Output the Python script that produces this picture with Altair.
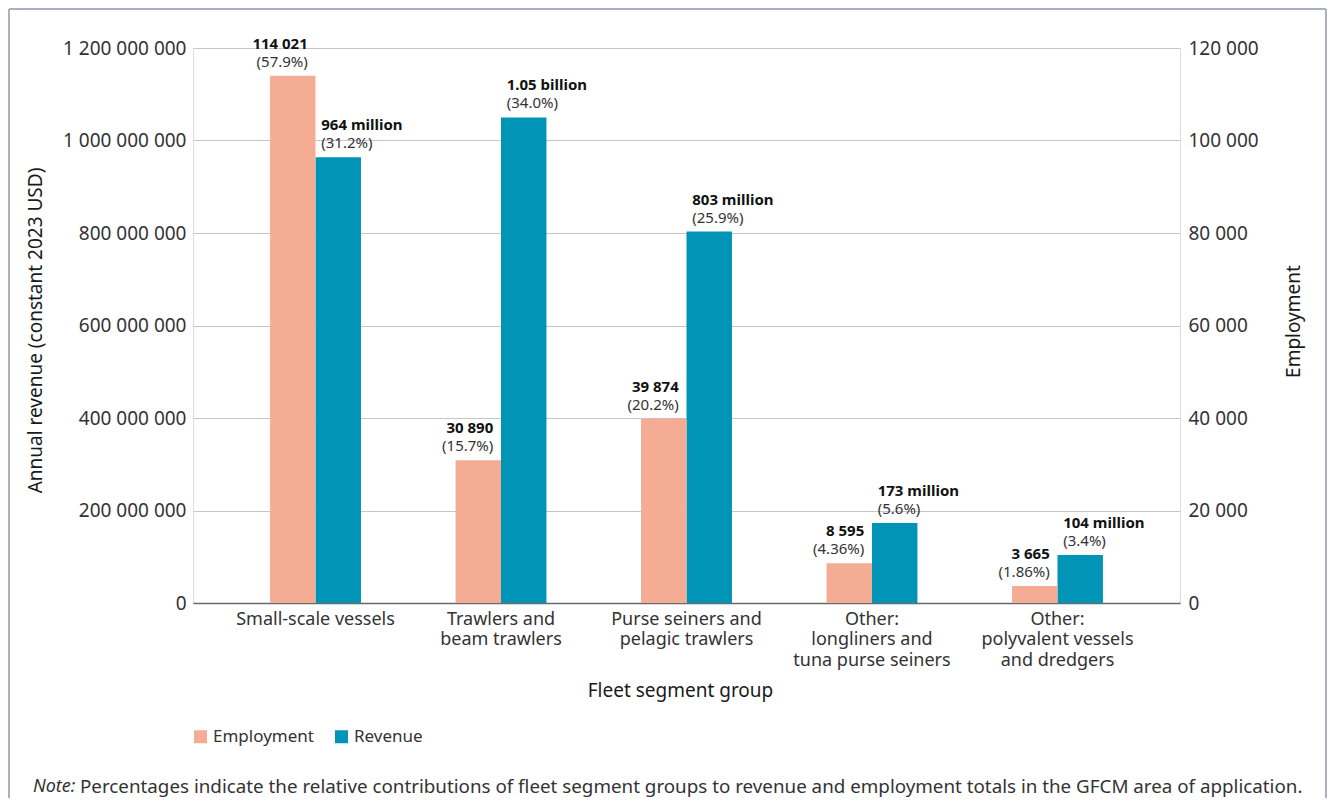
import altair as alt
import pandas as pd

# ---- data ----
segments = [
    "Small-scale vessels",
    "Trawlers and|beam trawlers",
    "Purse seiners and|pelagic trawlers",
    "Other:|longliners and|tuna purse seiners",
    "Other:|polyvalent vessels|and dredgers",
]
employment = [114021, 30890, 39874, 8595, 3665]
employment_labels = ["114 021", "30 890", "39 874", "8 595", "3 665"]
employment_pct = ["(57.9%)", "(15.7%)", "(20.2%)", "(4.36%)", "(1.86%)"]
revenue = [964e6, 1.05e9, 803e6, 173e6, 104e6]
revenue_labels = ["964 million", "1.05 billion", "803 million", "173 million", "104 million"]
revenue_pct = ["(31.2%)", "(34.0%)", "(25.9%)", "(5.6%)", "(3.4%)"]
series = ["Employment", "Revenue"]
colors = ["#F4AD94", "#0094B6"]
revenue_ticks = [0, 200e6, 400e6, 600e6, 800e6, 1000e6, 1200e6]
employment_ticks = [0, 20000, 40000, 60000, 80000, 100000, 120000]
note_lead = "Note:"
note_text = ("Percentages indicate the relative contributions of fleet segment groups "
             "to revenue and employment totals in the GFCM area of application.")

rows = []
for i, s in enumerate(segments):
    rows.append({"segment": s, "series": "Employment", "value": employment[i],
                 "label": employment_labels[i], "pct": employment_pct[i]})
    rows.append({"segment": s, "series": "Revenue", "value": revenue[i],
                 "label": revenue_labels[i], "pct": revenue_pct[i]})
df = pd.DataFrame(rows)
dummy = pd.DataFrame({"n": [0]})

FONT = "Noto Sans"
LABEL_EXPR = "replace(format(datum.value, ','), regexp(',', 'g'), ' ')"

x_enc = alt.X(
    "segment:N",
    sort=segments,
    scale=alt.Scale(domain=segments, paddingInner=0.51, paddingOuter=0.4155),
    axis=alt.Axis(
        labelExpr="split(datum.label, '|')", labelAngle=0, labelFontSize=18,
        labelLineHeight=20.5, labelColor="#333333", labelPadding=7, ticks=False,
        tickSize=0, domain=True, domainColor="#6a6a6a", domainWidth=1.5,
        title="Fleet segment group", titleFontSize=19, titleFontWeight="normal",
        titleColor="#1a1a1a", titleX=487, titleY=87, titleBaseline="middle",
        titleAlign="center",
    ),
)
xoff_enc = alt.XOffset("series:N", scale=alt.Scale(domain=series, paddingInner=0, paddingOuter=0))
color_enc = alt.Color(
    "series:N",
    scale=alt.Scale(domain=series, range=colors),
    legend=alt.Legend(
        orient="none", legendX=-1, legendY=680, direction="horizontal", title=None,
        symbolType="square", symbolSize=169, symbolStrokeWidth=0, labelFontSize=17,
        labelColor="#333333", labelOffset=4, columnPadding=19, padding=0,
    ),
)

rev_y = alt.Y(
    "value:Q",
    scale=alt.Scale(domain=[0, 1.2e9], nice=False),
    axis=alt.Axis(
        orient="left", values=revenue_ticks, labelExpr=LABEL_EXPR, grid=True,
        gridColor="#C6C6C6", gridWidth=1, domain=False, ticks=False, labelPadding=7,
        labelFontSize=19, labelColor="#333333",
        title="Annual revenue (constant 2023 USD)", titleFontSize=19,
        titleFontWeight="normal", titleColor="#1a1a1a", titleAngle=270,
        titleX=-158, titleY=282, titleAlign="center", titleBaseline="middle",
    ),
)
emp_y = alt.Y(
    "value:Q",
    scale=alt.Scale(domain=[0, 120000], nice=False),
    axis=alt.Axis(
        orient="right", values=employment_ticks, labelExpr=LABEL_EXPR, grid=False,
        domain=False, ticks=False, labelPadding=8, labelFontSize=19,
        labelColor="#333333", title="Employment", titleFontSize=19,
        titleFontWeight="normal", titleColor="#1a1a1a", titleAngle=270,
        titleX=113, titleY=273, titleAlign="center", titleBaseline="middle",
    ),
)

base = alt.Chart(df)
LBL = 15

rev_base = base.transform_filter(alt.datum.series == "Revenue")
rev_bars = rev_base.mark_bar().encode(x=x_enc, xOffset=xoff_enc, y=rev_y, color=color_enc)
rev_lab = rev_base.mark_text(align="left", baseline="middle", dx=-17, dy=-32,
                             fontSize=LBL, fontWeight="bold", color="#111111").encode(
    x=x_enc, xOffset=xoff_enc, y=rev_y, text="label:N")
rev_pct = rev_base.mark_text(align="left", baseline="middle", dx=-17, dy=-14,
                             fontSize=LBL, color="#333333").encode(
    x=x_enc, xOffset=xoff_enc, y=rev_y, text="pct:N")

emp_base = base.transform_filter(alt.datum.series == "Employment")
emp_bars = emp_base.mark_bar().encode(x=x_enc, xOffset=xoff_enc, y=emp_y, color=color_enc)
emp_lab = emp_base.mark_text(align="right", baseline="middle", dx=15, dy=-32,
                             fontSize=LBL, fontWeight="bold", color="#111111").encode(
    x=x_enc, xOffset=xoff_enc, y=emp_y, text="label:N")
emp_pct = emp_base.mark_text(align="right", baseline="middle", dx=15, dy=-14,
                             fontSize=LBL, color="#333333").encode(
    x=x_enc, xOffset=xoff_enc, y=emp_y, text="pct:N")

rev_layer = alt.layer(rev_bars, rev_lab, rev_pct)
emp_layer = alt.layer(emp_bars, emp_lab, emp_pct)

BORDER = "#A9B2BC"
left_border = alt.Chart(dummy).mark_rule(color=BORDER, strokeWidth=2).encode(
    x=alt.value(-184), y=alt.value(-39), y2=alt.value(750))
top_border = alt.Chart(dummy).mark_rule(color=BORDER, strokeWidth=2).encode(
    x=alt.value(-184), x2=alt.value(1133), y=alt.value(-39))
right_border = alt.Chart(dummy).mark_rule(color=BORDER, strokeWidth=2).encode(
    x=alt.value(1133), y=alt.value(-39), y2=alt.value(750))

note1 = alt.Chart(dummy).mark_text(text=note_lead, fontStyle="italic", align="left",
                                   baseline="middle", fontSize=18, color="#333333").encode(
    x=alt.value(-160), y=alt.value(739))
note2 = alt.Chart(dummy).mark_text(text=note_text, align="left", baseline="middle",
                                   fontSize=18.8, color="#333333").encode(
    x=alt.value(-113), y=alt.value(739))

chart = alt.layer(
    rev_layer, emp_layer, left_border, top_border, right_border, note1, note2
).resolve_scale(y="independent").properties(
    width=987, height=555, padding=0
).configure_view(stroke=None).configure(font=FONT)

chart.save("out.html", embed_options={"renderer": "svg", "actions": False})
